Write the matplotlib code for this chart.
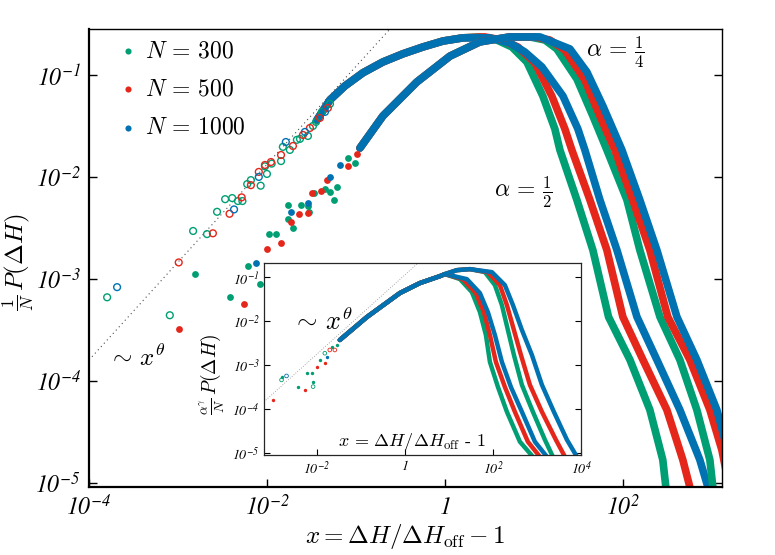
import matplotlib as mpl
import matplotlib.pyplot as plt
from matplotlib.ticker import NullLocator

mpl.rcParams['mathtext.fontset'] = 'cm'
# italic serif digits for the tick labels (used through math_fontfamily='custom')
mpl.rcParams['mathtext.rm'] = 'STIXGeneral:italic'
mpl.rcParams['mathtext.it'] = 'STIXGeneral:italic'

green = '#009E73'
red = '#E5261A'
blue = '#0072B2'

# ----- main panel data -----
# alpha = 1/2 : scattered points at small x (open circles)
open_green_x = [1.6e-4, 8.1e-4, 1.48e-3, 2.12e-3, 2.75e-3, 3.39e-3, 4.07e-3, 4.72e-3, 5.3e-3,
                6.0e-3, 6.6e-3, 8.5e-3, 9.5e-3, 1.0e-2, 1.13e-2, 1.44e-2, 1.51e-2, 1.81e-2,
                2.17e-2, 2.35e-2, 2.89e-2, 3.29e-2, 3.56e-2, 4.15e-2, 5.11e-2]
open_green_y = [6.6e-4, 4.4e-4, 2.95e-3, 2.75e-3, 4.55e-3, 6.05e-3, 6.2e-3, 5.8e-3, 5.8e-3,
                8.5e-3, 9.3e-3, 8.2e-3, 1.27e-2, 1.07e-2, 1.35e-2, 1.43e-2, 1.97e-2, 1.84e-2,
                2.31e-2, 2.36e-2, 2.52e-2, 3.16e-2, 3.46e-2, 4.34e-2, 5.2e-2]
open_red_x = [1.02e-3, 2.47e-3, 3.8e-3, 5.2e-3, 6.6e-3, 8.1e-3, 9.5e-3, 1.11e-2, 1.44e-2,
              1.96e-2, 2.54e-2, 3.04e-2, 3.94e-2, 4.84e-2]
open_red_y = [1.45e-3, 2.8e-3, 4.35e-3, 6.3e-3, 8.3e-3, 1.12e-2, 1.31e-2, 1.4e-2, 1.64e-2,
              2.01e-2, 2.58e-2, 3.02e-2, 3.79e-2, 4.74e-2]
open_blue_x = [2.07e-4, 4.27e-3, 8.1e-3, 1.63e-2, 2.67e-2, 4.49e-2]
open_blue_y = [8.3e-4, 4.8e-3, 1.0e-2, 2.2e-2, 2.76e-2, 4.34e-2]

# alpha = 1/4 : scattered points at small x (filled)
fill_green_x = [1.55e-3, 3.8e-3, 6.1e-3, 8.4e-3, 1.05e-2, 1.26e-2, 1.73e-2, 1.73e-2, 1.95e-2,
                2.4e-2, 2.9e-2, 3.0e-2, 3.4e-2, 4.5e-2, 5.1e-2, 5.6e-2, 6.1e-2, 8.1e-2, 9.8e-2]
fill_green_y = [1.12e-3, 6.6e-4, 1.35e-3, 8.9e-4, 2.75e-3, 2.75e-3, 3.9e-3, 5.25e-3, 3.16e-3,
                5.3e-3, 5.2e-3, 4.55e-3, 6.9e-3, 7.6e-3, 7.1e-3, 6.0e-3, 7.9e-3, 1.54e-2, 1.37e-2]
fill_red_x = [1.02e-3, 5.5e-3, 1.0e-2, 1.44e-2, 1.85e-2, 2.3e-2, 2.9e-2, 3.2e-2, 4.1e-2,
              4.7e-2, 8.1e-2, 0.102]
fill_red_y = [3.24e-4, 5.7e-4, 1.95e-3, 2.24e-3, 3.63e-3, 4.37e-3, 4.4e-3, 6.9e-3, 7.2e-3,
              9.3e-3, 1.28e-2, 1.69e-2]
fill_blue_x = [7.6e-3, 1.85e-2, 2.9e-2, 5.1e-2, 6.6e-2]
fill_blue_y = [1.44e-3, 4.55e-3, 5.6e-3, 1.0e-2, 1.31e-2]

# dense parts (alpha = 1/2): common rise, then one tail per N
rise_half_x = [0.0365, 0.0511, 0.0752, 0.120, 0.201, 0.337, 0.566, 0.951, 1.59]
rise_half_y = [0.0362, 0.0569, 0.078, 0.105, 0.134, 0.161, 0.188, 0.215, 0.231]
half_300_x = [2.47, 3.84, 5.66, 8.34, 12.6, 17.2, 19.6, 30.4, 46.0, 69.0, 120, 201, 281, 304]
half_300_y = [0.236, 0.220, 0.188, 0.134, 0.0622, 0.0296, 0.0184, 0.00596, 0.00192, 4.24e-4,
              1.61e-4, 5.2e-5, 1.68e-5, 9.1e-6]
half_500_x = [2.81, 4.37, 6.61, 10.3, 15.9, 22.3, 26.7, 42.6, 66.1, 100, 168, 312, 472, 566]
half_500_y = [0.236, 0.220, 0.188, 0.131, 0.0622, 0.0296, 0.0184, 0.00596, 0.00192, 4.24e-4,
              1.61e-4, 5.2e-5, 1.68e-5, 9.1e-6]
half_1000_x = [3.20, 5.37, 7.92, 12.3, 21.2, 31.2, 37.4, 55.2, 85.7, 144, 241, 437, 733, 902]
half_1000_y = [0.231, 0.206, 0.168, 0.120, 0.0622, 0.0296, 0.0184, 0.00596, 0.00192, 4.24e-4,
               1.61e-4, 5.2e-5, 1.68e-5, 9.1e-6]

# dense parts (alpha = 1/4)
rise_quarter_x = [0.111, 0.201, 0.484, 1.14, 2.47, 5.37]
rise_quarter_y = [0.0192, 0.0396, 0.0853, 0.153, 0.211, 0.236]
quarter_300_x = [9.02, 13.3, 18.1, 30.4, 46.0, 66.1, 111, 155, 261, 437, 678, 950, 1026]
quarter_300_y = [0.236, 0.220, 0.180, 0.0914, 0.0396, 0.0184, 0.00596, 0.00192, 4.24e-4,
                 1.61e-4, 5.2e-5, 1.68e-5, 9.1e-6]
quarter_500_x = [10.3, 15.1, 22.3, 37.4, 55.2, 81.3, 129, 201, 320, 566, 950, 1294, 1513]
quarter_500_y = [0.236, 0.220, 0.176, 0.0893, 0.0396, 0.0184, 0.00596, 0.00192, 4.24e-4,
                 1.61e-4, 5.2e-5, 2.11e-5, 1.07e-5]
quarter_1000_x = [11.7, 25.4, 39.4, 59.6, 97.5, 155, 241, 405, 678, 1138, 1400]
quarter_1000_y = [0.236, 0.180, 0.107, 0.0497, 0.0184, 0.00596, 0.00192, 4.24e-4, 1.61e-4,
                  5.2e-5, 2.64e-5]

guide_x = [1e-4, 0.25]
guide_y = [1.6e-4, 0.292]

main_xticks = [1e-4, 1e-2, 1, 1e2]
main_xlabels = [r'$10^{-4}$', r'$10^{-2}$', r'$1$', r'$10^{2}$']
main_yticks = [1e-5, 1e-4, 1e-3, 1e-2, 1e-1]
main_ylabels = [r'$10^{-5}$', r'$10^{-4}$', r'$10^{-3}$', r'$10^{-2}$', r'$10^{-1}$']

# ----- inset data -----
in_rise_x = [0.0333, 0.137, 0.769, 2.19, 6.24, 8.11]
in_rise_y = [3.70e-3, 0.0123, 0.0433, 0.0731, 0.105, 0.117]
in_in_300_x = [17.8, 33.3, 50.7, 69.3, 85.5, 130, 208, 411, 811]
in_in_300_y = [0.0901, 0.0456, 0.0160, 4.81e-3, 1.17e-3, 3.16e-4, 8.55e-5, 1.78e-5, 8.1e-6]
in_in_500_x = [20.8, 41.1, 62.4, 85.5, 117, 187, 316, 624, 1170]
in_in_500_y = [0.0901, 0.0433, 0.0160, 4.81e-3, 1.17e-3, 3.16e-4, 8.55e-5, 1.78e-5, 8.1e-6]
in_in_1000_x = [25.6, 50.7, 76.9, 111, 160, 256, 456, 901, 1690]
in_in_1000_y = [0.0901, 0.0433, 0.0160, 4.81e-3, 1.17e-3, 3.16e-4, 8.55e-5, 1.78e-5, 8.1e-6]
in_out_rise_x = [15.2, 30.0]
in_out_rise_y = [0.144, 0.152]
in_out_300_x = [65.8, 111, 160, 219, 300, 456, 811, 1520, 2310]
in_out_300_y = [0.130, 0.0658, 0.0231, 6.24e-3, 1.69e-3, 3.51e-4, 8.55e-5, 1.97e-5, 8.1e-6]
in_out_500_x = [76.9, 144, 208, 300, 433, 693, 1300, 2700, 4330]
in_out_500_y = [0.130, 0.0658, 0.0231, 6.24e-3, 1.69e-3, 3.51e-4, 8.55e-5, 1.97e-5, 8.1e-6]
in_out_1000_x = [94.9, 187, 285, 456, 769, 1300, 2430, 4810, 8110]
in_out_1000_y = [0.130, 0.0658, 0.0231, 6.24e-3, 1.69e-3, 3.51e-4, 8.55e-5, 1.97e-5, 8.1e-6]

in_fill_green_x = [1.58e-3, 3.76e-3, 8.24e-3, 5.83e-3, 7.58e-3, 0.0117, 0.0216, 0.0281]
in_fill_green_y = [5.42e-4, 3.21e-4, 4.17e-4, 6.47e-4, 6.47e-4, 1.30e-3, 2.61e-3, 2.85e-3]
in_open_green_x = [1.58e-3, 8.24e-3, 0.0152]
in_open_green_y = [4.56e-4, 3.21e-4, 1.85e-3]
in_open_blue_x = [2.05e-3]
in_open_blue_y = [5.62e-4]
in_fill_red_x = [1.02e-3, 5.34e-3, 9.84e-3, 0.0152]
in_fill_red_y = [1.55e-4, 2.70e-4, 9.14e-4, 1.09e-3]
in_open_red_x = [0.0197, 0.0257]
in_open_red_y = [2.19e-3, 2.19e-3]
in_fill_blue_x = [0.0166]
in_fill_blue_y = [1.55e-3]

in_guide_x = [6.3e-4, 2.0]
in_guide_y = [1.45e-4, 0.21]

in_xticks = [1e-2, 1, 1e2, 1e4]
in_xlabels = [r'$10^{-2}$', r'$1$', r'$10^{2}$', r'$10^{4}$']

# ----- main plot -----
fig = plt.figure(figsize=(7.75, 5.55), dpi=100)
ax = fig.add_axes([0.1148, 0.1225, 0.8168, 0.8252])
ax.set_xscale('log')
ax.set_yscale('log')

ax.plot(guide_x, guide_y, ls=(0, (1, 3)), color='0.3', lw=0.8, zorder=1)

line_kw = dict(lw=5.5, solid_capstyle='round', solid_joinstyle='round')
for tx, ty, c in [(half_300_x, half_300_y, green), (half_500_x, half_500_y, red),
                  (half_1000_x, half_1000_y, blue)]:
    ax.plot(rise_half_x + tx, rise_half_y + ty, color=c, **line_kw)
for tx, ty, c in [(quarter_300_x, quarter_300_y, green), (quarter_500_x, quarter_500_y, red),
                  (quarter_1000_x, quarter_1000_y, blue)]:
    ax.plot(rise_quarter_x + tx, rise_quarter_y + ty, color=c, **line_kw)

for x, y, c in [(open_green_x, open_green_y, green), (open_red_x, open_red_y, red),
                (open_blue_x, open_blue_y, blue)]:
    ax.scatter(x, y, s=24, facecolors='none', edgecolors=c, linewidths=1.0, zorder=3)
labels = [r'$N\,=\,300$', r'$N\,=\,500$', r'$N\,=\,1000$']
for x, y, c, lab in [(fill_green_x, fill_green_y, green, labels[0]),
                     (fill_red_x, fill_red_y, red, labels[1]),
                     (fill_blue_x, fill_blue_y, blue, labels[2])]:
    ax.scatter(x, y, s=24, color=c, linewidths=0, zorder=3, label=lab)

ax.set_xlim(1e-4, 1300)
ax.set_ylim(9.1e-6, 0.282)
ax.xaxis.set_minor_locator(NullLocator())
ax.yaxis.set_minor_locator(NullLocator())
ax.set_xticks(main_xticks)
ax.set_xticklabels(main_xlabels, fontsize=17, math_fontfamily='custom')
ax.set_yticks(main_yticks)
ax.set_yticklabels(main_ylabels, fontsize=17, math_fontfamily='custom')
ax.tick_params(direction='in', length=6, width=1, right=True, top=False, pad=6)
for s in ['left', 'bottom']:
    ax.spines[s].set_linewidth(1.6)
for s in ['top', 'right']:
    ax.spines[s].set_linewidth(1.0)

ax.set_xlabel(r'$x = \Delta H/\Delta H_{\rm off} - 1$', fontsize=18)
ax.xaxis.set_label_coords(0.5, -0.076)
ax.set_ylabel(r'$\frac{1}{N}\,P(\Delta H)$', fontsize=18)
ax.yaxis.set_label_coords(-0.084, 0.49)

ax.text(0.831, 0.95, r'$\alpha\,=\,\frac{1}{4}$', transform=ax.transAxes, fontsize=17,
        ha='center', va='center')
ax.text(0.687, 0.644, r'$\alpha\,=\,\frac{1}{2}$', transform=ax.transAxes, fontsize=17,
        ha='center', va='center')
ax.text(0.076, 0.282, r'$\sim\,x^{\theta}$', transform=ax.transAxes, fontsize=18,
        ha='center', va='center')

ax.legend(loc='upper left', bbox_to_anchor=(0.028, 1.0), borderaxespad=0, frameon=False,
          fontsize=17, handlelength=1.0, handletextpad=0.22, labelspacing=0.6,
          scatterpoints=1, markerscale=0.9)

# ----- inset -----
ins = fig.add_axes([0.3406, 0.1802, 0.409, 0.346])
ins.set_xscale('log')
ins.set_yscale('log')
ins.plot(in_guide_x, in_guide_y, ls=(0, (1, 2)), color='0.55', lw=0.6, zorder=1)

in_kw = dict(lw=3.2, solid_capstyle='round', solid_joinstyle='round')
for tx, ty, c in [(in_in_300_x, in_in_300_y, green), (in_in_500_x, in_in_500_y, red),
                  (in_in_1000_x, in_in_1000_y, blue)]:
    ins.plot(in_rise_x + tx, in_rise_y + ty, color=c, **in_kw)
for tx, ty, c in [(in_out_300_x, in_out_300_y, green), (in_out_500_x, in_out_500_y, red),
                  (in_out_1000_x, in_out_1000_y, blue)]:
    ins.plot(in_rise_x + in_out_rise_x + tx, in_rise_y + in_out_rise_y + ty, color=c, **in_kw)

for x, y, c in [(in_fill_green_x, in_fill_green_y, green), (in_fill_red_x, in_fill_red_y, red),
                (in_fill_blue_x, in_fill_blue_y, blue)]:
    ins.scatter(x, y, s=6, color=c, linewidths=0, zorder=3)
for x, y, c in [(in_open_green_x, in_open_green_y, green), (in_open_red_x, in_open_red_y, red),
                (in_open_blue_x, in_open_blue_y, blue)]:
    ins.scatter(x, y, s=7, facecolors='none', edgecolors=c, linewidths=0.6, zorder=3)

ins.set_xlim(6.3e-4, 1e4)
ins.set_ylim(8.9e-6, 0.21)
ins.xaxis.set_minor_locator(NullLocator())
ins.yaxis.set_minor_locator(NullLocator())
ins.set_xticks(in_xticks)
ins.set_xticklabels(in_xlabels, fontsize=10, math_fontfamily='custom')
ins.set_yticks(main_yticks)
ins.set_yticklabels(main_ylabels, fontsize=10, math_fontfamily='custom')
ins.tick_params(direction='in', length=4, width=0.8, right=True, top=False, pad=3)
for s in ins.spines.values():
    s.set_linewidth(0.9)
    s.set_color('0.15')

ins.set_ylabel(r'$\frac{\alpha^{\gamma}}{N}\,P(\Delta H)$', fontsize=14)
ins.yaxis.set_label_coords(-0.118, 0.42)
ins.text(0.467, 0.068, r'$x\,=\,\Delta H/\Delta H_{\rm off}$ - 1', transform=ins.transAxes,
         fontsize=13, family='cmr10', ha='center', va='center')
ins.text(0.183, 0.693, r'$\sim\,x^{\theta}$', transform=ins.transAxes, fontsize=19,
         ha='center', va='center')

plt.savefig('out.png', dpi=100)
